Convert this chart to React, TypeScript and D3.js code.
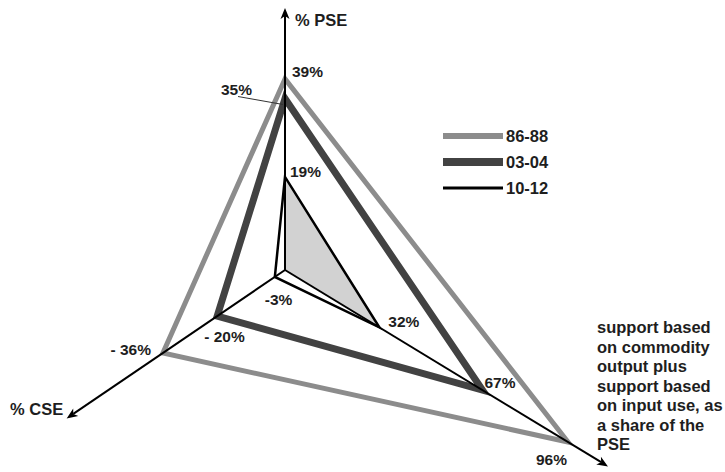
import React from "react";
import * as d3 from "d3";

// ---- data ----
const periods = ["86-88", "03-04", "10-12"];
const psePct = [39, 35, 19];
const csePct = [-36, -20, -3];
const outputSharePct = [96, 67, 32];
const pseLabels = ["39%", "35%", "19%"];
const cseLabels = ["- 36%", "- 20%", "-3%"];
const outputLabels = ["96%", "67%", "32%"];
const axisTitles = ["% PSE", "% CSE"];
const outputAxisNote = [
  "support based",
  "on commodity",
  "output plus",
  "support based",
  "on input use, as",
  "a share of the",
  "PSE",
];

// ---- layout / style ----
const W = 725;
const H = 472;
const origin: [number, number] = [285, 270];
const deg = Math.PI / 180;
const dirPSE: [number, number] = [0, -1];
const dirCSE: [number, number] = [Math.cos(145.8 * deg), Math.sin(145.8 * deg)];
const dirOut: [number, number] = [Math.cos(31.3 * deg), Math.sin(31.3 * deg)];

const pseScale = d3.scaleLinear().domain([0, 40]).range([0, 196]);
const cseScale = d3.scaleLinear().domain([0, -40]).range([0, 164]);
const outScale = d3.scaleLinear().domain([0, 100]).range([0, 345]);

const axisLen = { pse: 262, cse: 264, out: 378 };

const strokes = [
  { color: "#8c8c8c", width: 5 },
  { color: "#424242", width: 7 },
  { color: "#000000", width: 2.5 },
];
const legendWidths = [6, 8, 3];

const pt = (dir: [number, number], d: number): [number, number] => [
  origin[0] + dir[0] * d,
  origin[1] + dir[1] * d,
];

const font = "'Liberation Sans', Arial, sans-serif";

export default function App() {
  const line = d3.line<[number, number]>();
  const verts = periods.map((_, i) => ({
    p: pt(dirPSE, pseScale(psePct[i])),
    c: pt(dirCSE, cseScale(csePct[i])),
    o: pt(dirOut, outScale(outputSharePct[i])),
  }));
  const last = verts[2];
  const fillPath = line([origin, last.p, last.o]) + "Z";

  const arrow = (dir: [number, number], len: number) => {
    const tip = pt(dir, len);
    const L = 11,
      hw = 4.5;
    const base: [number, number] = [tip[0] - dir[0] * L, tip[1] - dir[1] * L];
    const nx = -dir[1],
      ny = dir[0];
    const back: [number, number] = [tip[0] - dir[0] * (L - 3), tip[1] - dir[1] * (L - 3)];
    return (
      <g>
        <line x1={origin[0]} y1={origin[1]} x2={back[0]} y2={back[1]} stroke="#000" strokeWidth={2} />
        <path
          d={line([tip, [base[0] + nx * hw, base[1] + ny * hw], back, [base[0] - nx * hw, base[1] - ny * hw]]) + "Z"}
          fill="#000"
        />
      </g>
    );
  };

  // label offsets relative to vertices
  const pseOff = [[7, -2, "start"], [-33, -4, "end"], [5, 0, "start"]] as const;
  const cseOff = [[-12, 2, "end"], [-13, 26, "start"], [-10, 28, "start"]] as const;
  const outOff = [[-32, 23, "start"], [2, -2, "start"], [9, 0, "start"]] as const;

  const txt = { fontFamily: font, fontWeight: 700, fill: "#1e1e1e" } as const;

  return (
    <svg
      width={W}
      height={H}
      style={{ position: "absolute", left: 0, top: 0, background: "#fff" }}
    >
      <path d={fillPath} fill="#d2d2d2" />
      {verts.map((v, i) => (
        <path
          key={periods[i]}
          d={line([v.p, v.c, v.o]) + "Z"}
          fill="none"
          stroke={strokes[i].color}
          strokeWidth={strokes[i].width}
          strokeLinejoin="miter"
        />
      ))}
      {arrow(dirPSE, axisLen.pse)}
      {arrow(dirCSE, axisLen.cse)}
      {arrow(dirOut, axisLen.out)}

      {/* leader for 35% */}
      <line
        x1={verts[1].p[0] - 47}
        y1={verts[1].p[1] - 2}
        x2={verts[1].p[0] - 2}
        y2={verts[1].p[1] + 6}
        stroke="#333"
        strokeWidth={1}
      />

      {verts.map((v, i) => (
        <g key={"l" + i} fontSize={15.5} {...txt}>
          <text x={v.p[0] + pseOff[i][0]} y={v.p[1] + pseOff[i][1]} textAnchor={pseOff[i][2]}>
            {pseLabels[i]}
          </text>
          <text x={v.c[0] + cseOff[i][0]} y={v.c[1] + cseOff[i][1]} textAnchor={cseOff[i][2]}>
            {cseLabels[i]}
          </text>
          <text x={v.o[0] + outOff[i][0]} y={v.o[1] + outOff[i][1]} textAnchor={outOff[i][2]}>
            {outputLabels[i]}
          </text>
        </g>
      ))}

      <text x={295} y={26} fontSize={16.5} {...txt}>
        {axisTitles[0]}
      </text>
      <text x={10} y={415} fontSize={16.5} {...txt}>
        {axisTitles[1]}
      </text>

      {periods.map((p, i) => {
        const y = 136 + i * 26;
        return (
          <g key={"lg" + p}>
            <line x1={443} x2={503} y1={y} y2={y} stroke={strokes[i].color} strokeWidth={legendWidths[i]} />
            <text x={506} y={y + 6} fontSize={16.5} {...txt}>
              {p}
            </text>
          </g>
        );
      })}

      {outputAxisNote.map((s, i) => (
        <text key={"n" + i} x={597} y={333 + i * 19.5} fontSize={16.5} {...txt}>
          {s}
        </text>
      ))}
    </svg>
  );
}
